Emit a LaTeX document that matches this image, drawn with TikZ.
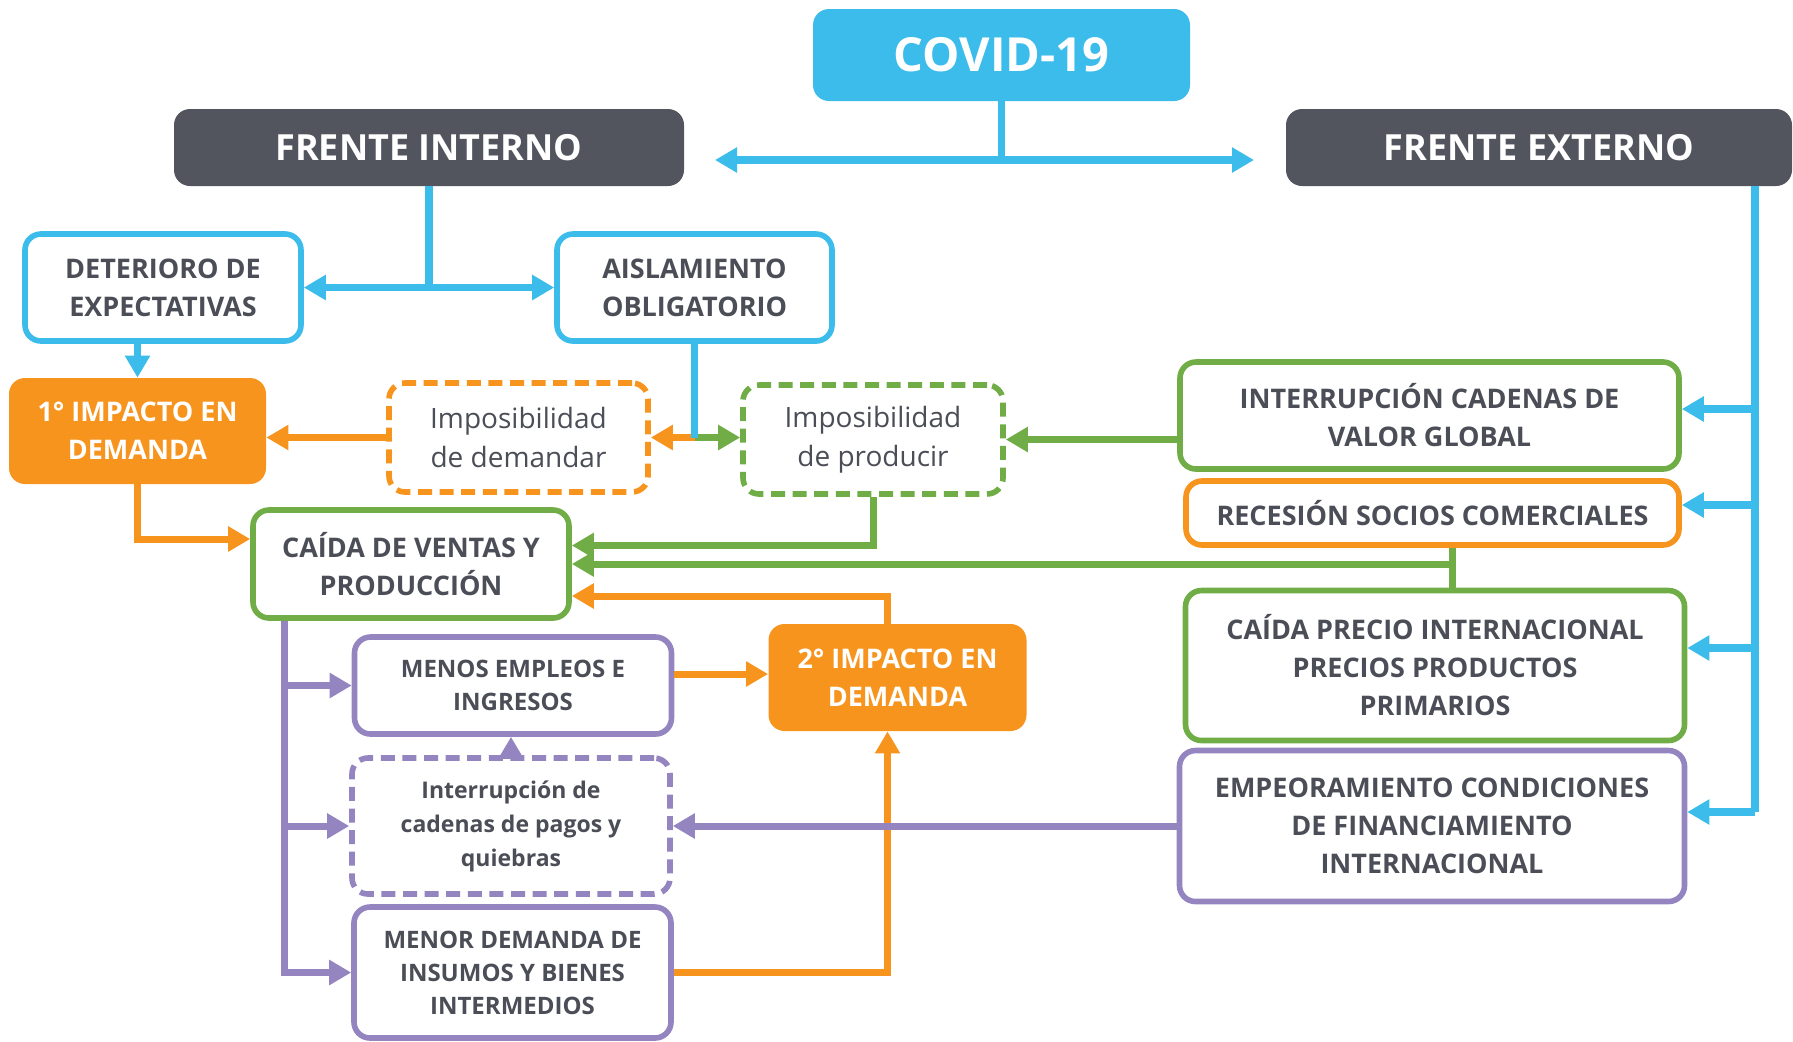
\documentclass[tikz,border=0pt]{standalone}
\usepackage{fontspec}
\setmainfont{Open Sans}
\usetikzlibrary{arrows.meta}

\definecolor{cyanc}{HTML}{3BBCEB}
\definecolor{darkc}{HTML}{52545E}
\definecolor{orangec}{HTML}{F7941E}
\definecolor{greenc}{HTML}{70AD47}
\definecolor{purplec}{HTML}{9484C0}
\definecolor{textc}{HTML}{4B4D57}

\tikzset{
  box/.style={draw, line width=2.8pt, rounded corners=8pt, fill=white, text=textc,
    align=center, inner sep=0pt, font=\bfseries\fontsize{13.5}{19}\selectfont},
  dbox/.style={box, dash pattern=on 7pt off 3.8pt},
  headbox/.style={fill=darkc, rounded corners=8pt, text=white, inner sep=0pt,
    font=\bfseries\fontsize{18}{22}\selectfont},
  impactbox/.style={fill=orangec, rounded corners=8pt, text=white, inner sep=0pt,
    align=center, font=\bfseries\fontsize{13.5}{19}\selectfont},
  cyanline/.style={draw=cyanc, line width=3.7pt},
  orangeline/.style={draw=orangec, line width=3.5pt},
  greenline/.style={draw=greenc, line width=3.5pt},
  purpleline/.style={draw=purplec, line width=3.5pt}
}

\begin{document}
\begin{tikzpicture}[x=0.5pt, y=-0.5pt, >={Triangle[width=12pt,length=11pt]}]
  \useasboundingbox (0,0) rectangle (1793,1041);

  %% top
  \node[fill=cyanc, rounded corners=8pt, text=white, minimum width=188.5pt, minimum height=46pt,
    font=\bfseries\fontsize{23.5}{28}\selectfont] (covid) at (1001.5,55) {COVID-19};
  \node[headbox, minimum width=255pt, minimum height=38.5pt] (fi) at (429,147.5) {FRENTE INTERNO};
  \node[headbox, minimum width=253pt, minimum height=38.5pt] (fe) at (1539,147.5) {FRENTE EXTERNO};

  %% frente interno
  \node[box, draw=cyanc, minimum width=138pt, minimum height=53.5pt] (det) at (163,287.5) {DETERIORO DE\\EXPECTATIVAS};
  \node[box, draw=cyanc, minimum width=137.5pt, minimum height=53.5pt] (ais) at (694.5,287.5) {AISLAMIENTO\\OBLIGATORIO};
  \node[impactbox, minimum width=128.5pt, minimum height=53pt] (imp1) at (137.5,431) {1° IMPACTO EN\\DEMANDA};
  \node[dbox, draw=orangec, minimum width=129.5pt, minimum height=54.5pt, font=\fontsize{14}{19.5}\selectfont] (idem) at (518.5,437.5) {Imposibilidad\\de demandar};
  \node[dbox, draw=greenc, minimum width=130pt, minimum height=54.5pt, font=\fontsize{14}{19.5}\selectfont] (iprod) at (873,439.5) {Imposibilidad\\de producir};
  \node[box, draw=greenc, minimum width=158pt, minimum height=54pt] (cvp) at (411,564) {CAÍDA DE VENTAS Y\\PRODUCCIÓN};
  \node[impactbox, minimum width=129pt, minimum height=53.5pt] (imp2) at (897.5,677.5) {2° IMPACTO EN\\DEMANDA};
  \node[box, draw=purplec, minimum width=158.5pt, minimum height=48.5pt, font=\bfseries\fontsize{12}{16.5}\selectfont] (mei) at (513,685.5) {MENOS EMPLEOS E\\INGRESOS};
  \node[dbox, draw=purplec, minimum width=159pt, minimum height=68pt, font=\bfseries\fontsize{11.5}{17}\selectfont] (icp) at (511,826) {Interrupción de\\cadenas de pagos y\\quiebras};
  \node[box, draw=purplec, minimum width=158.5pt, minimum height=65.5pt, font=\bfseries\fontsize{12}{16.5}\selectfont] (mdi) at (512.5,972.5) {MENOR DEMANDA DE\\INSUMOS Y BIENES\\INTERMEDIOS};

  %% frente externo
  \node[box, draw=greenc, minimum width=249.5pt, minimum height=53.5pt] (icvg) at (1429.5,415.5) {INTERRUPCIÓN CADENAS DE\\VALOR GLOBAL};
  \node[box, draw=orangec, minimum width=246.5pt, minimum height=32pt] (rsc) at (1432.5,513) {RECESIÓN SOCIOS COMERCIALES};
  \node[box, draw=greenc, minimum width=249.5pt, minimum height=75pt] (cpi) at (1435,665.5) {CAÍDA PRECIO INTERNACIONAL\\PRECIOS PRODUCTOS\\PRIMARIOS};
  \node[box, draw=purplec, minimum width=252.5pt, minimum height=75.5pt] (ecf) at (1432,826) {EMPEORAMIENTO CONDICIONES\\DE FINANCIAMIENTO\\INTERNACIONAL};

  %% covid split
  \coordinate (cl) at (715,160);
  \coordinate (cr) at (1254,160);
  \draw[cyanline] (covid.south) -- (covid.south |- cl);
  \draw[cyanline, <->] (cl) -- (cr);

  %% interno
  \draw[cyanline] (fi.south) -- (fi.south |- det.east);
  \draw[cyanline, <->] (det.east) -- (ais.west);
  \draw[cyanline, ->] (det.south -| imp1.north) -- (imp1.north);
  \draw[orangeline, ->] (ais.south |- idem.east) -- (idem.east);
  \draw[greenline, ->] (ais.south |- idem.east) -- (idem.east -| iprod.west);
  \draw[cyanline] (ais.south) -- (ais.south |- idem.east);
  \draw[orangeline, ->] (idem.west) -- (idem.west -| imp1.east);
  \draw[greenline, ->] (icvg.west |- iprod.east) -- (iprod.east);
  \draw[orangeline, ->] (imp1.south) |- (cvp.west |- 0,539);
  \draw[greenline, ->] (iprod.south) |- (cvp.east |- 0,545.5);

  %% externo
  \coordinate (etop) at (1755,186);
  \coordinate (ebot) at (1755,812);
  \draw[cyanline] (etop) -- (ebot);
  \foreach \n/\y in {icvg/409, rsc/505, cpi/648, ecf/812}
    \draw[cyanline, ->] (etop |- 0,\y) -- (\n.east |- 0,\y);
  \draw[greenline] ([xshift=8.5pt]cpi.north) -- ++(0,-40);
  \draw[greenline, ->] ([xshift=8.5pt]cpi.north) |- (cvp.east);

  %% segundo impacto
  \draw[orangeline, ->] ([xshift=-5pt]imp2.north) |- (cvp.east |- 0,596);
  \draw[orangeline, ->] (mei.east |- 0,674) -- (imp2.west |- 0,674);
  \draw[orangeline, ->] (mdi.east) -| ([xshift=-5pt]imp2.south);
  \draw[purpleline, ->] (icp.north) -- (icp.north |- mei.south);
  \draw[purpleline, ->] (ecf.west) -- (icp.east);

  %% ventas
  \coordinate (ptr) at ([xshift=-63.5pt]cvp.south);
  \draw[purpleline, ->] (ptr) |- (mdi.west);
  \draw[purpleline, ->] (ptr |- mei.west) -- (mei.west);
  \draw[purpleline, ->] (ptr |- icp.west) -- (icp.west);
\end{tikzpicture}
\end{document}
